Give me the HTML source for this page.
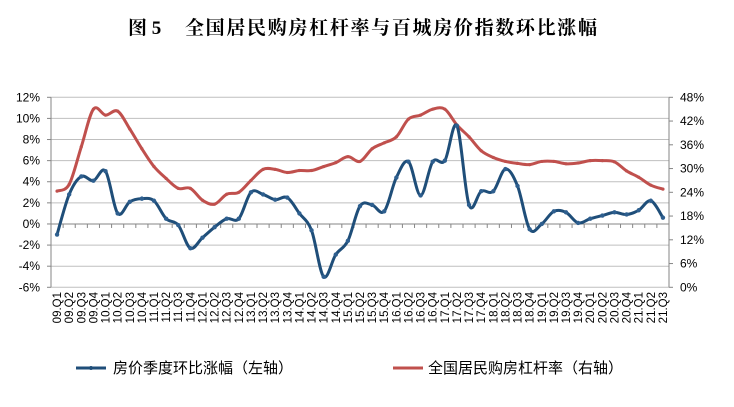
<!DOCTYPE html>
<html><head><meta charset="utf-8"><style>
body{margin:0;background:#fff;}
svg text{font-family:"Liberation Sans","Noto Sans CJK SC",sans-serif;}
</style></head><body>
<svg id="c" width="734" height="402" xmlns="http://www.w3.org/2000/svg">
<g font-size="19" font-weight="bold">
<text x="128" y="34" style="font-family:'Liberation Serif','Noto Serif CJK SC',serif">图 5</text>
<text x="185" y="34" textLength="412" lengthAdjust="spacing" style="font-family:'Liberation Serif','Noto Serif CJK SC',serif">全国居民购房杠杆率与百城房价指数环比涨幅</text>
</g>
<g id="grid"></g><g id="axes"></g><g id="series"></g>
<g>
<line x1="76" y1="368" x2="106" y2="368" stroke="#1f4e79" stroke-width="3"/>
<circle cx="91" cy="368" r="2" fill="#1f4e79"/>
<text x="113" y="373" font-size="15">房价季度环比涨幅（左轴）</text>
<line x1="393" y1="368" x2="423" y2="368" stroke="#c0504d" stroke-width="3"/>
<text x="428" y="373" font-size="15">全国居民购房杠杆率（右轴）</text>
</g>
</svg>
<script>
const categories=[];
for(let y=9;y<=21;y++){for(let q=1;q<=4;q++){if(y===21&&q>3)break;categories.push((y<10?'0'+y:y)+'.Q'+q);}}
const priceChange=[-1.0,2.8,4.5,4.1,5.0,1.0,2.1,2.4,2.2,0.5,-0.1,-2.3,-1.3,-0.3,0.5,0.5,3.0,2.8,2.3,2.5,1.0,-0.6,-5.0,-2.9,-1.6,1.7,1.8,1.2,4.4,5.9,2.7,5.9,6.0,9.3,1.8,3.1,3.1,5.2,3.6,-0.5,0.0,1.2,1.1,0.1,0.5,0.8,1.1,0.9,1.3,2.2,0.6];
const leverage=[24.3,26,35.5,45,43.5,44.5,40,35,30.5,27.5,25,25,22,21,23.5,24,27,29.8,29.8,29,29.5,29.5,30.5,31.5,33,31.8,35,36.5,38,42.5,43.5,45,45,41,38,34.5,32.8,31.8,31.3,31,31.8,31.8,31.2,31.4,32,32,31.7,29.4,27.8,25.8,24.8];
const leftTicks=[12,10,8,6,4,2,0,-2,-4,-6];
const rightTicks=[48,42,36,30,24,18,12,6,0];
const NS="http://www.w3.org/2000/svg";
const X0=51,X1=669,YT=97.3,YB=287.3;
const step=(X1-X0)/categories.length;
const xs=i=>X0+step*(i+0.5);
const yl=v=>YT+(12-v)*(YB-YT)/18;
const yr=v=>YT+(48-v)*(YB-YT)/48;
function mk(tag,attrs,parent){const e=document.createElementNS(NS,tag);for(const k in attrs)e.setAttribute(k,attrs[k]);document.getElementById(parent).appendChild(e);return e;}
leftTicks.forEach(t=>{
 const g=mk('line',{x1:X0,x2:X1,y1:yl(t),y2:yl(t),stroke:t===0?'#868686':'#bfbfbf','stroke-width':1},'grid');
 
 
 const l=mk('text',{x:40,y:yl(t)+4,'text-anchor':'end','font-size':12},'axes');l.textContent=t+'%';
 
 
});
rightTicks.forEach(t=>{
 const l=mk('text',{x:680,y:yr(t)+4,'font-size':12},'axes');l.textContent=t+'%';
 
 
 mk('line',{x1:X1,x2:X1+4,y1:yr(t),y2:yr(t),stroke:'#868686'},'axes');
});
mk('line',{x1:X0,x2:X0,y1:YT,y2:YB,stroke:'#868686'},'axes');
mk('line',{x1:X1,x2:X1,y1:YT,y2:YB,stroke:'#868686'},'axes');
leftTicks.forEach(t=>mk('line',{x1:X0-4,x2:X0,y1:yl(t),y2:yl(t),stroke:'#868686'},'axes'));
categories.forEach((c,i)=>{
 mk('line',{x1:X0+step*i,x2:X0+step*i,y1:yl(0),y2:yl(0)+4,stroke:'#868686'},'axes');
 const x=xs(i);
 const t=mk('text',{x:0,y:0,'font-size':11.5,'text-anchor':'end',transform:`translate(${x+4},${292}) rotate(-90)`},'axes');
 t.textContent=c;
 
 
});
function smooth(pts){let d=`M${pts[0][0]},${pts[0][1]}`;for(let i=0;i<pts.length-1;i++){const p0=pts[Math.max(0,i-1)],p1=pts[i],p2=pts[i+1],p3=pts[Math.min(pts.length-1,i+2)];const c1=[p1[0]+(p2[0]-p0[0])/6,p1[1]+(p2[1]-p0[1])/6],c2=[p2[0]-(p3[0]-p1[0])/6,p2[1]-(p3[1]-p1[1])/6];d+=` C${c1[0]},${c1[1]} ${c2[0]},${c2[1]} ${p2[0]},${p2[1]}`;}return d;}
const rp=leverage.map((v,i)=>[xs(i),yr(v)]);
const r=mk('path',{d:smooth(rp),fill:'none',stroke:'#c0504d','stroke-width':3},'series');


rp.forEach(p=>{const m=mk('circle',{cx:p[0],cy:p[1],r:1.6,fill:'#c0504d'},'series');
 
 });
const bp=priceChange.map((v,i)=>[xs(i),yl(v)]);
const b=mk('path',{d:smooth(bp),fill:'none',stroke:'#1f4e79','stroke-width':3},'series');


bp.forEach(p=>{const m=mk('circle',{cx:p[0],cy:p[1],r:2.2,fill:'#2e5f8f'},'series');
 
 });
</script>
</body></html>
